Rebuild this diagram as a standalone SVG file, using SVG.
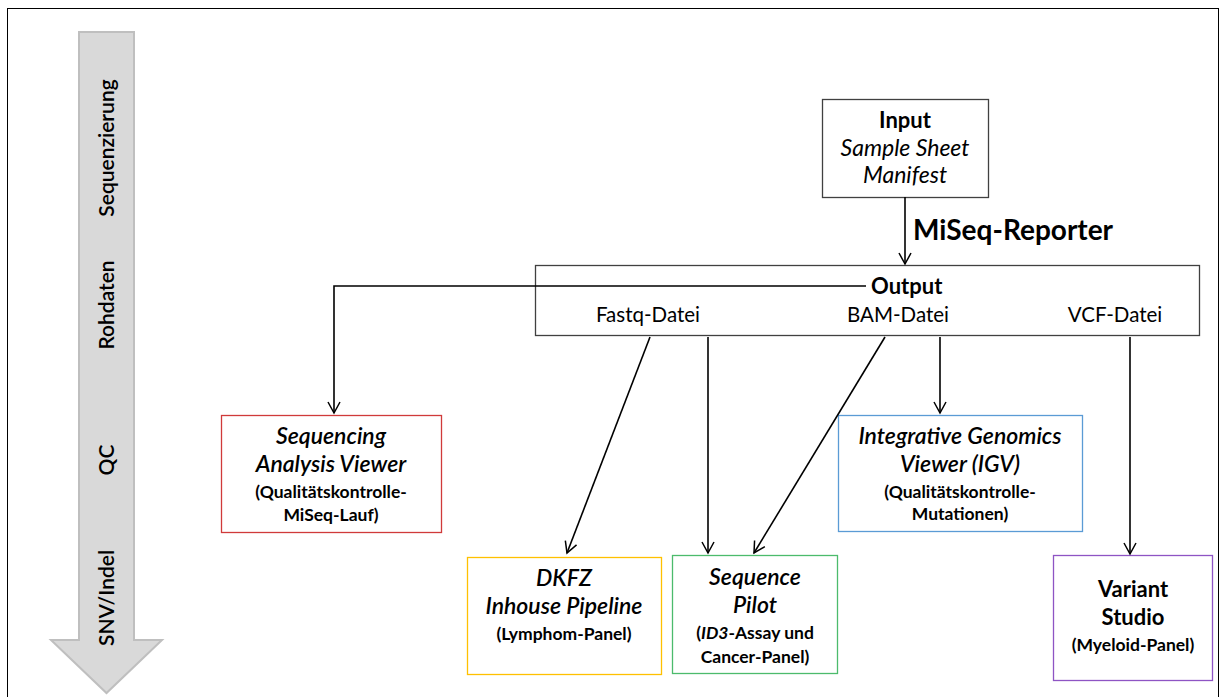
<svg xmlns="http://www.w3.org/2000/svg" width="1220" height="697" viewBox="0 0 1220 697">
<defs>
<marker id="v" viewBox="0 0 14 14" refX="12" refY="7" markerWidth="14" markerHeight="14" markerUnits="userSpaceOnUse" orient="auto">
<polyline points="1,1 12,7 1,13" fill="none" stroke="#000" stroke-width="1.5"/>
</marker>
</defs>
<style>
text{font-family:Lato,"Liberation Sans",sans-serif;fill:#000;text-anchor:middle}
.t{font-size:23px;font-style:italic;font-weight:600}
.i{font-size:23px;font-style:italic}
.b{font-size:22px;font-weight:bold}
.s{font-size:17.5px;font-weight:bold}
.f{font-size:20.5px}
.side{font-size:21px;font-weight:600}
.box{fill:#fff;stroke-width:1.3}
.c{fill:none;stroke:#000;stroke-width:1.6;marker-end:url(#v)}
</style>
<rect x="0" y="0" width="1220" height="697" fill="#fff"/>
<rect x="7.5" y="8.5" width="1211" height="700" fill="none" stroke="#000" stroke-width="1"/>
<g id="timeline">
<polygon points="79,32 134,32 134,640 162,640 106.5,693 51,640 79,640" fill="#d9d9d9" stroke="#bfbfbf" stroke-width="2"/>
<text class="side" transform="translate(114,148) rotate(-90)">Sequenzierung</text>
<text class="side" transform="translate(114,305) rotate(-90)">Rohdaten</text>
<text class="side" transform="translate(114,460) rotate(-90)">QC</text>
<text class="side" transform="translate(114,598) rotate(-90)">SNV/Indel</text>
</g>
<g id="input">
<rect class="box" x="822.5" y="99.5" width="166" height="98" stroke="#404040"/>
<text class="b" x="905" y="128">Input</text>
<text class="i" x="905" y="156">Sample Sheet</text>
<text class="i" x="905" y="183">Manifest</text>
</g>
<text id="miseq" x="913" y="240" style="font-size:28px;font-weight:bold;text-anchor:start">MiSeq-Reporter</text>
<g id="output">
<rect class="box" x="535.5" y="265.5" width="664" height="70" stroke="#404040"/>
<text class="b" x="871" y="294" style="text-anchor:start">Output</text>
<text class="f" x="648" y="322">Fastq-Datei</text>
<text class="f" x="898" y="322">BAM-Datei</text>
<text class="f" x="1115" y="322">VCF-Datei</text>
</g>
<g id="sav">
<rect class="box" x="221.5" y="415.5" width="220" height="117" stroke="#d03a3a"/>
<text class="t" x="331" y="444">Sequencing</text>
<text class="t" x="331" y="472">Analysis Viewer</text>
<text class="s" x="331" y="498">(Qualitätskontrolle-</text>
<text class="s" x="331" y="521">MiSeq-Lauf)</text>
</g>
<g id="igv">
<rect class="box" x="838.5" y="415.5" width="244" height="116" stroke="#5b9bd5"/>
<text class="t" x="960" y="444">Integrative Genomics</text>
<text class="t" x="960" y="472">Viewer (IGV)</text>
<text class="s" x="960" y="498">(Qualitätskontrolle-</text>
<text class="s" x="960" y="520">Mutationen)</text>
</g>
<g id="dkfz">
<rect class="box" x="467.5" y="557.5" width="194" height="117" stroke="#ffc000"/>
<text class="t" x="564" y="586">DKFZ</text>
<text class="t" x="564" y="614">Inhouse Pipeline</text>
<text class="s" x="564" y="640">(Lymphom-Panel)</text>
</g>
<g id="pilot">
<rect class="box" x="672.5" y="555.5" width="165" height="118" stroke="#4cbb6c"/>
<text class="t" x="755" y="585">Sequence</text>
<text class="t" x="755" y="613">Pilot</text>
<text class="s" x="755" y="639">(<tspan font-style="italic">ID3</tspan>-Assay und</text>
<text class="s" x="755" y="663">Cancer-Panel)</text>
</g>
<g id="variant">
<rect class="box" x="1053.5" y="555.5" width="159" height="125" stroke="#8e54c4"/>
<text class="b" x="1133" y="597">Variant</text>
<text class="b" x="1133" y="625">Studio</text>
<text class="s" x="1133" y="651">(Myeloid-Panel)</text>
</g>
<g id="connectors">
<path class="c" d="M905,197 V264"/>
<path class="c" d="M866,286 H334 V413"/>
<path class="c" d="M650,337 L567,553"/>
<path class="c" d="M708,337 V553"/>
<path class="c" d="M885,337 L754,553"/>
<path class="c" d="M940,337 V413"/>
<path class="c" d="M1130,337 V554"/>
</g>
</svg>
